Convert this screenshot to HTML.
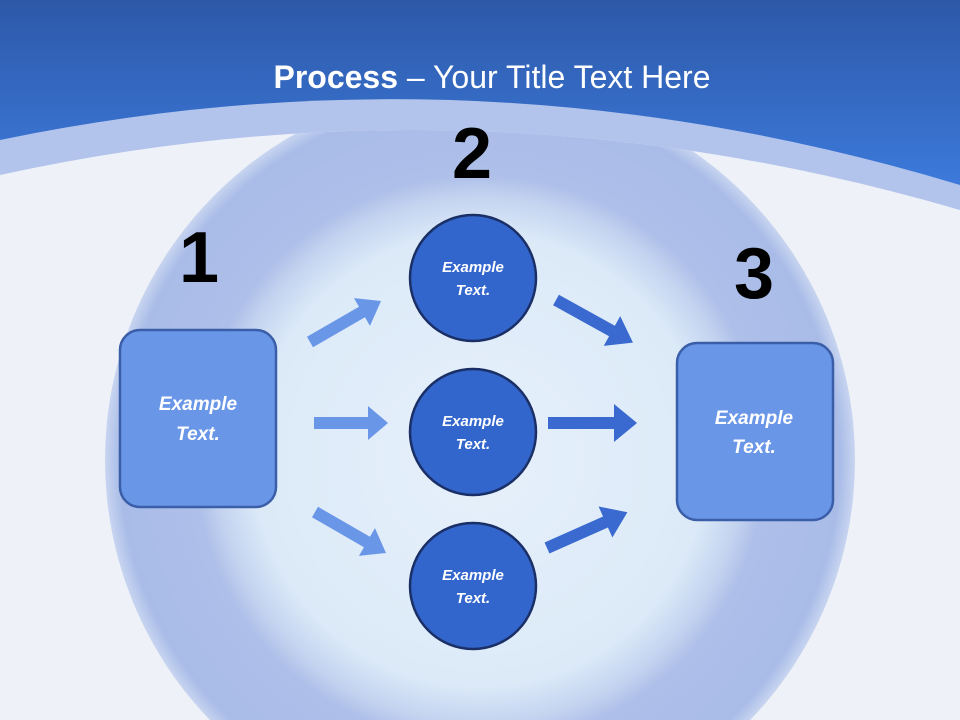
<!DOCTYPE html>
<html style="margin:0;overflow:hidden"><head><meta charset="utf-8"><style>
html,body{margin:0;padding:0;width:960px;height:720px;overflow:hidden;font-family:"Liberation Sans",sans-serif}
svg{display:block}
</style></head><body>
<svg width="960" height="720" viewBox="0 0 960 720" xmlns="http://www.w3.org/2000/svg">
<defs>
<linearGradient id="hd" x1="0" y1="0" x2="0" y2="1">
<stop offset="0" stop-color="#2d58a8"/><stop offset="1" stop-color="#3f80e4"/>
</linearGradient>
<radialGradient id="ring" cx="480" cy="460" r="375" gradientUnits="userSpaceOnUse">
<stop offset="0" stop-color="#e6f0fa"/><stop offset="0.6" stop-color="#dceaf8"/><stop offset="0.7" stop-color="#c4d4f0"/><stop offset="0.76" stop-color="#aebfe9"/><stop offset="0.96" stop-color="#a9bce8"/><stop offset="1" stop-color="#c8d5f0"/>
</radialGradient>
</defs>
<rect width="960" height="720" fill="#eef2f8"/>
<rect width="960" height="220" fill="url(#hd)"/>
<path d="M0 140 Q480 40 960 185 L960 720 L0 720Z" fill="#b3c4ec"/>
<path d="M0 175 Q480 70 960 210 L960 720 L0 720Z" fill="#eef2f8"/>
<clipPath id="c"><path d="M0 175 Q480 70 960 210 L960 720 L0 720Z"/></clipPath>
<g clip-path="url(#c)"><circle cx="480" cy="460" r="375" fill="url(#ring)"/></g>
<text x="492" y="88" text-anchor="middle" fill="#fff" font-size="32"><tspan font-weight="bold">Process</tspan> – Your Title Text Here</text>
<g font-weight="bold" font-size="72" fill="#000" text-anchor="middle">
<text x="199" y="282">1</text><text x="472" y="178">2</text><text x="754" y="298">3</text></g>
<rect x="120" y="330" width="156" height="177" rx="20" fill="#6a96e8" stroke="#3a5ea8" stroke-width="2.5"/>
<rect x="677" y="343" width="156" height="177" rx="20" fill="#6a96e8" stroke="#3a5ea8" stroke-width="2.5"/>
<g fill="#3366cc" stroke="#1a2f66" stroke-width="2.5">
<circle cx="473" cy="278" r="63"/><circle cx="473" cy="432" r="63"/><circle cx="473" cy="586" r="63"/></g>
<g fill="#fff" font-style="italic" font-weight="bold" text-anchor="middle">
<g font-size="15"><text x="473" y="272">Example</text><text x="473" y="295">Text.</text>
<text x="473" y="426">Example</text><text x="473" y="449">Text.</text>
<text x="473" y="580">Example</text><text x="473" y="603">Text.</text></g>
<g font-size="19"><text x="198" y="410">Example</text><text x="198" y="440">Text.</text>
<text x="754" y="424">Example</text><text x="754" y="453">Text.</text></g></g>
<g fill="#6a96e8">
<path d="M314 417 L368 417 L368 406 L388 423 L368 440 L368 429 L314 429Z"/>
<path d="M0 -6 L60 -6 L60 -16 L82 0 L60 16 L60 6 L0 6Z" transform="translate(310,342) rotate(-30)"/>
<path d="M0 -6 L60 -6 L60 -16 L82 0 L60 16 L60 6 L0 6Z" transform="translate(315,512) rotate(30)"/>
</g>
<g fill="#3a6ad0">
<path d="M548 417 L614 417 L614 404 L637 423 L614 442 L614 429 L548 429Z"/>
<path d="M0 -6 L64 -6 L64 -17 L88 0 L64 17 L64 6 L0 6Z" transform="translate(556,300) rotate(29)"/>
<path d="M0 -6 L64 -6 L64 -17 L88 0 L64 17 L64 6 L0 6Z" transform="translate(547,548) rotate(-24)"/>
</g>
</svg>
</body></html>
